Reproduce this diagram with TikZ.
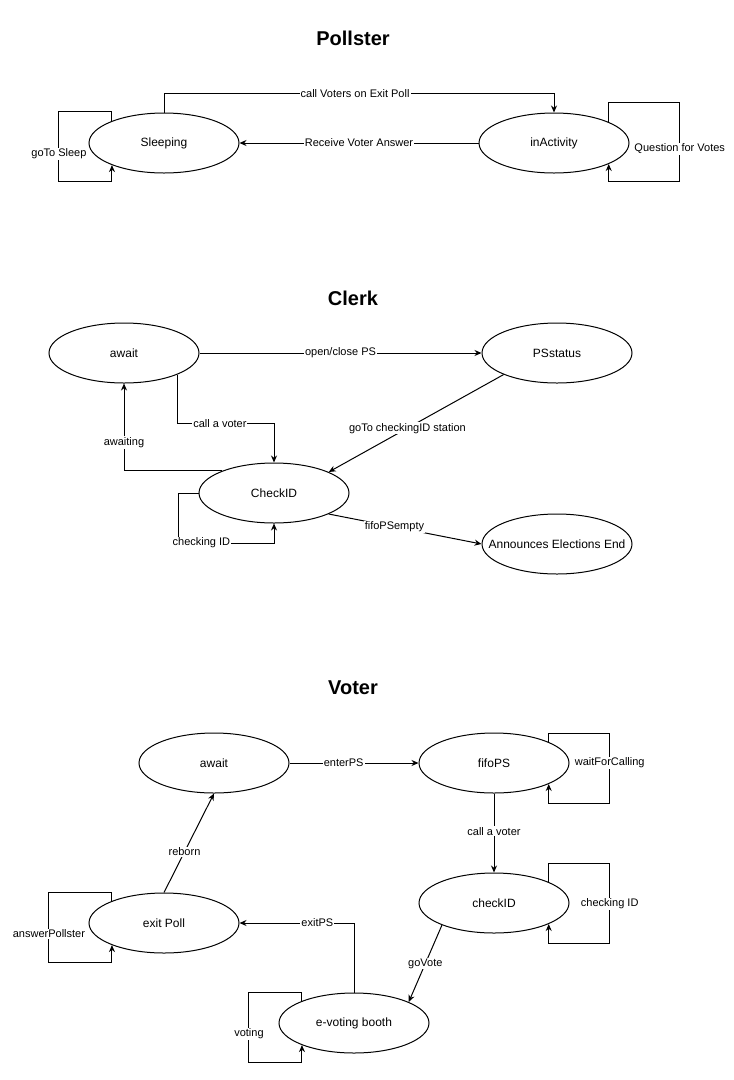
\documentclass[tikz,border=0pt]{standalone}
\usepackage{fontspec}
\setmainfont{Liberation Sans}
\usepackage{tikz}
\usetikzlibrary{arrows.meta,shapes.geometric}
\tikzset{
  ell/.style={draw=black, ellipse, line width=1pt, minimum width=150pt, minimum height=60pt, inner sep=0pt, font=\fontsize{12}{14}\selectfont},
  trans/.style={draw=black, line width=1pt, -{Stealth[length=7pt,width=6pt]}},
  lbl/.style={fill=white, inner sep=1pt, font=\fontsize{11}{13}\selectfont},
  ttl/.style={font=\fontsize{20}{24}\selectfont\bfseries}
}
\begin{document}
\begin{tikzpicture}[x=1pt,y=-1pt]
  \fill[white, use as bounding box] (0,0) rectangle (734,1080);

  % Pollster
  \node[ttl] (tpoll) at (353,38) {Pollster};
  \node[ell] (sleep) at (164,143) {Sleeping};
  \node[ell] (inact) at (554,143) {inActivity};

  \draw[trans] (sleep.north) -- ++(0,-19) -| node[lbl, pos=0.245] {call Voters on Exit Poll} (inact.north);
  \draw[trans] (inact.west) -- node[lbl] {Receive Voter Answer} (sleep.east);
  \draw[trans] (sleep.157) |- ++(-53,-9) |- node[lbl, pos=0.3] {goTo Sleep} ++(53,70) -- (sleep.203);
  \draw[trans] (inact.21) |- ++(71,-19) |- node[lbl, pos=0.29] {Question for Votes} ++(-71,79) -- (inact.339);

  % Clerk
  \node[ttl] (tclerk) at (353,298) {Clerk};
  \node[ell] (await) at (124,353) {await};
  \node[ell] (psst) at (557,353) {PSstatus};
  \node[ell] (check) at (274,493) {CheckID};
  \node[ell, label={[font=\fontsize{12}{14}\selectfont]center:Announces Elections End}] (ann) at (557,544) {};

  \draw[trans] (await.east) -- node[lbl] {open/close PS} (psst.west);
  \draw[trans] (await.338) -- ++(0,49) -| node[lbl, pos=0.22] {call a voter} (check.north);
  \draw[trans] (check.157) -| node[lbl, pos=0.663] {awaiting} (await.south);
  \draw[trans] (psst.202) -- node[lbl, pos=0.55] {goTo checkingID station} (check.21);
  \draw[trans] (check.west) -| ++(-20,50) -| node[lbl, pos=0.12] {checking ID} (check.south);
  \draw[trans] (check.339) -- node[lbl, pos=0.43] {fifoPSempty} (ann.west);

  % Voter
  \node[ttl] (tvoter) at (353,688) {Voter};
  \node[ell] (wait) at (214,763) {await};
  \node[ell] (fifo) at (494,763) {fifoPS};
  \node[ell] (chk) at (494,903) {checkID};
  \node[ell] (exitp) at (164,923) {exit Poll};
  \node[ell] (booth) at (354,1023) {e-voting booth};

  \draw[trans] (wait.east) -- node[lbl, pos=0.42] {enterPS} (fifo.west);
  \draw[trans] (fifo.21) |- ++(61,-9) |- node[lbl, pos=0.214] {waitForCalling} ++(-61,70) -- (fifo.339);
  \draw[trans] (fifo.south) -- node[lbl, pos=0.48] {call a voter} (chk.north);
  \draw[trans] (chk.21) |- ++(61,-19) |- node[lbl, pos=0.256] {checking ID} ++(-61,80) -- (chk.339);
  \draw[trans] (chk.203) -- node[lbl] {goVote} (booth.21);
  \draw[trans] (booth.north) |- node[lbl, pos=0.66] {exitPS} (exitp.east);
  \draw[trans] (exitp.north) -- node[lbl, pos=0.41] {reborn} (wait.south);
  \draw[trans] (exitp.157) |- ++(-63,-8) |- node[lbl, pos=0.293] {answerPollster} ++(63,70) -- (exitp.203);
  \draw[trans] (booth.157) |- ++(-53,-8) |- node[lbl, pos=0.293] {voting} ++(53,70) -- (booth.203);
\end{tikzpicture}
\end{document}
